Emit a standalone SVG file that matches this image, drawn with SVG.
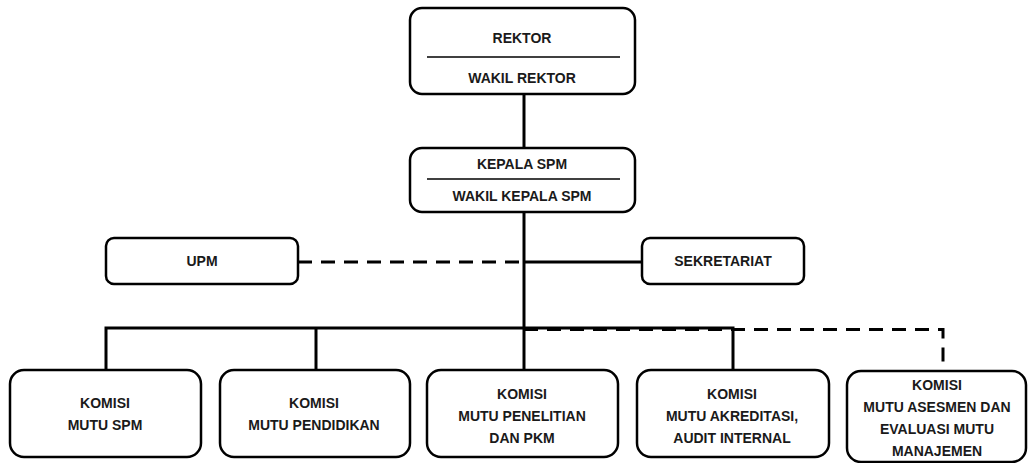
<svg xmlns="http://www.w3.org/2000/svg" width="1028" height="463" viewBox="0 0 1028 463">
<style>
.box{fill:#fff;stroke:#000;stroke-width:2.5}
.div{stroke:#000;stroke-width:1.5}
.ln{fill:none;stroke:#000;stroke-width:3}
.dash{fill:none;stroke:#000;stroke-width:3;stroke-dasharray:14 9}
text{font-family:"Liberation Sans",Arial,sans-serif;font-weight:bold;font-size:14px;fill:#1a1a1a;text-anchor:middle;dominant-baseline:central}
</style>
<rect width="1028" height="463" fill="#fff"/>
<g id="connectors">
<line class="ln" x1="524" y1="94" x2="524" y2="148"/>
<line class="ln" x1="524" y1="212" x2="524" y2="328"/>
<line class="dash" x1="298" y1="262" x2="524" y2="262"/>
<line class="ln" x1="524" y1="262" x2="642" y2="262"/>
<polyline class="ln" points="106,370 106,328 733,328 733,370"/>
<line class="ln" x1="316" y1="328" x2="316" y2="370"/>
<line class="ln" x1="524" y1="328" x2="524" y2="370"/>
<polyline class="dash" points="524,329.5 943,329.5 943,371"/>
</g>
<g id="rektor">
<rect class="box" x="410" y="8" width="225" height="86" rx="12"/>
<line class="div" x1="427" y1="57" x2="620" y2="57"/>
<text x="522" y="38">REKTOR</text>
<text x="522" y="78">WAKIL REKTOR</text>
</g>
<g id="kepala">
<rect class="box" x="410" y="148" width="225" height="64" rx="12"/>
<line class="div" x1="427" y1="179" x2="620" y2="179"/>
<text x="522" y="164">KEPALA SPM</text>
<text x="522" y="196">WAKIL KEPALA SPM</text>
</g>
<g id="upm">
<rect class="box" x="106" y="238" width="192" height="46" rx="8"/>
<text x="202" y="261">UPM</text>
</g>
<g id="sekretariat">
<rect class="box" x="642" y="238" width="162" height="46" rx="8"/>
<text x="723" y="261">SEKRETARIAT</text>
</g>
<g id="komisi1">
<rect class="box" x="10" y="370" width="191" height="87" rx="14"/>
<text x="105" y="403">KOMISI</text>
<text x="105" y="425">MUTU SPM</text>
</g>
<g id="komisi2">
<rect class="box" x="220" y="370" width="190" height="87" rx="14"/>
<text x="314" y="403">KOMISI</text>
<text x="314" y="425">MUTU PENDIDIKAN</text>
</g>
<g id="komisi3">
<rect class="box" x="427" y="370" width="191" height="87" rx="14"/>
<text x="522" y="394">KOMISI</text>
<text x="522" y="416">MUTU PENELITIAN</text>
<text x="522" y="438">DAN PKM</text>
</g>
<g id="komisi4">
<rect class="box" x="637" y="370" width="192" height="87" rx="14"/>
<text x="732" y="394">KOMISI</text>
<text x="732" y="416">MUTU AKREDITASI,</text>
<text x="732" y="438">AUDIT INTERNAL</text>
</g>
<g id="komisi5">
<rect class="box" x="847" y="371" width="179" height="91" rx="14"/>
<text x="937" y="385">KOMISI</text>
<text x="937" y="407">MUTU ASESMEN DAN</text>
<text x="937" y="429">EVALUASI MUTU</text>
<text x="937" y="451">MANAJEMEN</text>
</g>
</svg>
